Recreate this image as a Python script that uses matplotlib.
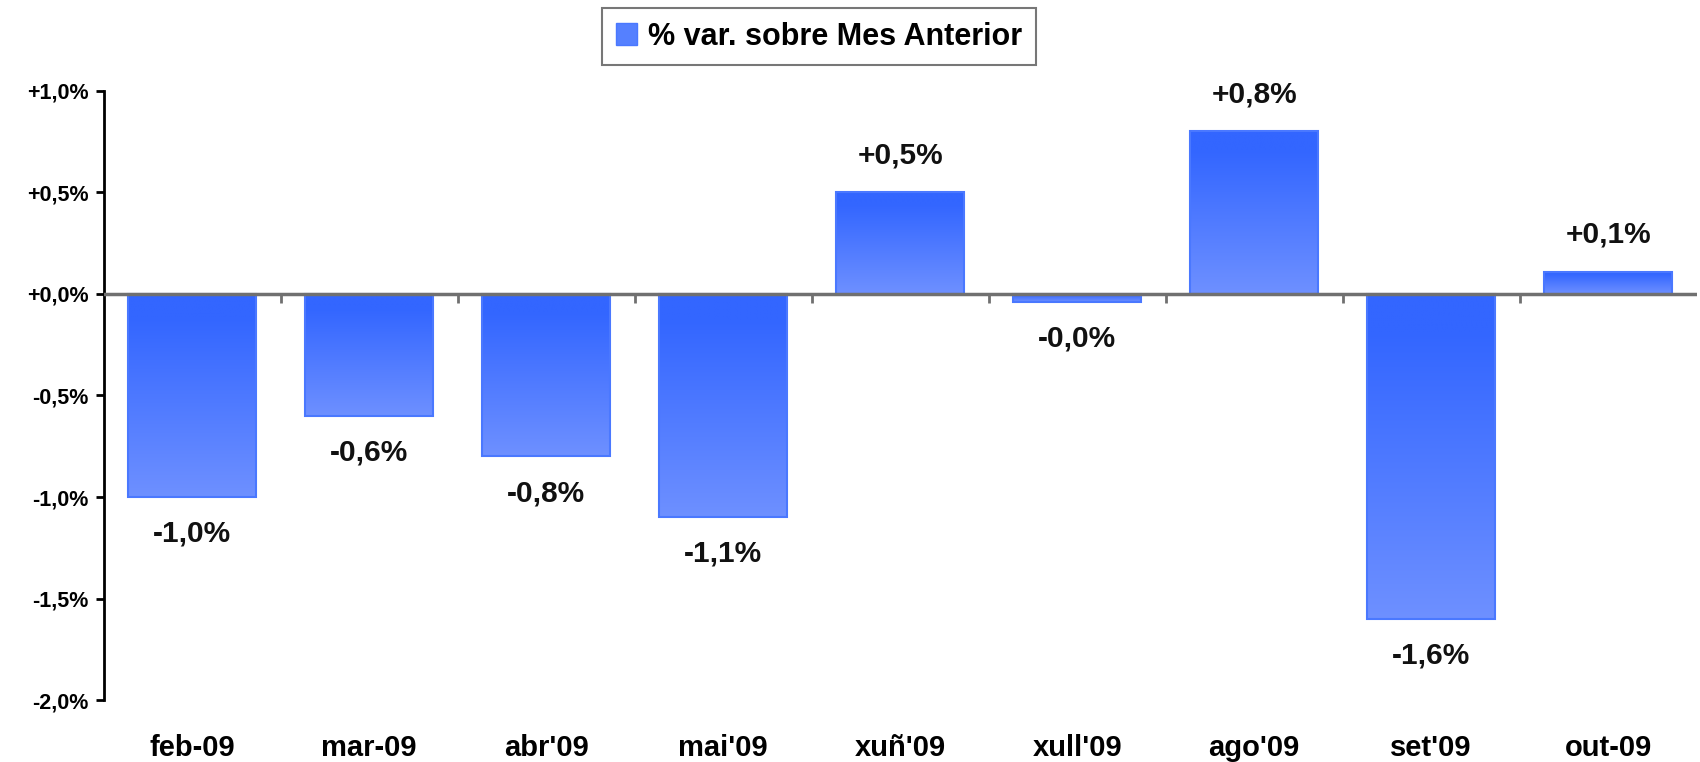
import numpy as np
import matplotlib.pyplot as plt
from matplotlib.colors import LinearSegmentedColormap
from matplotlib.patches import Rectangle

plt.rcParams['font.family'] = ['Liberation Sans', 'DejaVu Sans']
plt.rcParams['font.weight'] = 'bold'

# --- data ---
MONTHS = ["feb-09", "mar-09", "abr'09", "mai'09", "xuñ'09", "xull'09", "ago'09", "set'09", "out-09"]
PCT_CHANGE = [-1.0, -0.6, -0.8, -1.1, 0.5, -0.04, 0.8, -1.6, 0.11]
Y_TICKS = [1.0, 0.5, 0.0, -0.5, -1.0, -1.5, -2.0]
SERIES_NAME = "% var. sobre Mes Anterior"

TOP_BLUE = '#3366ff'
LOW_BLUE = '#6e90ff'
EDGE_BLUE = '#4a78ff'
BAR_W = 0.72


def pct(v, decimals=1):
    s = f"{v:+.{decimals}f}".replace('.', ',')
    if v < 0 and round(v, decimals) == 0:
        s = '-' + s[1:]
    return s + '%'


fig = plt.figure(figsize=(17, 7.62), dpi=100)
ax = fig.add_axes([0.061, 0.081, 0.937, 0.8])

grad = np.linspace(0, 1, 256).reshape(-1, 1)
cmap = LinearSegmentedColormap.from_list(
    'bar_blue', [(0.0, TOP_BLUE), (0.12, TOP_BLUE), (1.0, LOW_BLUE)], N=256)

x = np.arange(len(MONTHS))
bars = ax.bar(x, PCT_CHANGE, width=BAR_W, color='none', edgecolor=EDGE_BLUE, linewidth=1.5, zorder=3)
for bar, v in zip(bars, PCT_CHANGE):
    x0 = bar.get_x()
    y0, y1 = min(0, v), max(0, v)
    ax.imshow(grad, extent=[x0, x0 + BAR_W, y0, y1], cmap=cmap, aspect='auto',
              origin='upper', zorder=2, interpolation='bilinear')
    off = 0.18
    ty = v + off if v >= 0 else v - off
    ax.text(bar.get_x() + BAR_W / 2, ty, pct(v), ha='center', va='center',
            fontsize=21.5, fontweight='bold', color='#111111', zorder=4)

ax.set_xlim(-0.5, len(MONTHS) - 0.5)
ax.set_ylim(-2.0, 1.0)

# zero line with small tick marks between categories
ax.axhline(0, color='#707070', lw=2.5, zorder=4)
ax.vlines(x[:-1] + 0.5, -0.045, 0, color='#707070', lw=2, zorder=4)

for side in ['top', 'right', 'bottom']:
    ax.spines[side].set_visible(False)
ax.spines['left'].set_linewidth(2)
ax.spines['left'].set_color('black')

ax.set_yticks(Y_TICKS)
ax.set_yticklabels([pct(t) for t in Y_TICKS])
ax.tick_params(axis='y', direction='out', length=6, width=2, pad=5, labelsize=15.5)
ax.set_xticks(x)
ax.set_xticklabels(MONTHS)
ax.tick_params(axis='x', length=0, pad=24, labelsize=21)

# legend box
leg_patch = Rectangle((0, 0), 1, 1, facecolor='#5580ff', edgecolor=EDGE_BLUE)
leg = fig.legend([leg_patch], [SERIES_NAME], loc='center', bbox_to_anchor=(0.4816, 0.952),
                 frameon=True, fancybox=False, fontsize=22, handlelength=0.7, handleheight=0.7,
                 handletextpad=0.35, borderpad=0.45)
leg.get_frame().set_edgecolor('#555555')
leg.get_frame().set_linewidth(1.5)

fig.savefig('out.png', dpi=100)
